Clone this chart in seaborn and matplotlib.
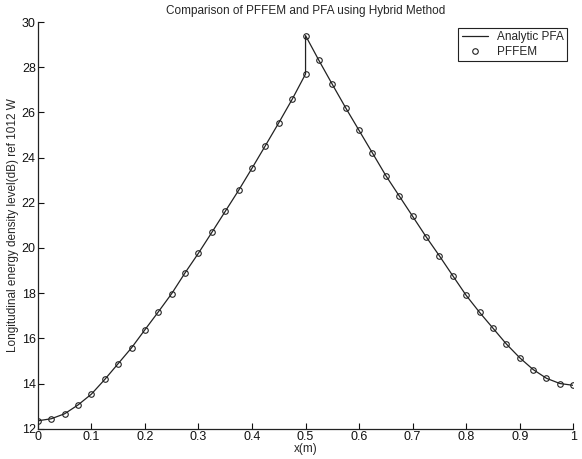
import numpy as np
import pandas as pd
import matplotlib
matplotlib.use("Agg")
import matplotlib.pyplot as plt
import seaborn as sns

x_vals = [0.0, 0.025, 0.05, 0.075, 0.1, 0.125, 0.15, 0.175, 0.2, 0.225,
          0.25, 0.275, 0.3, 0.325, 0.35, 0.375, 0.4, 0.425, 0.45, 0.475,
          0.5, 0.5, 0.525, 0.55, 0.575, 0.6, 0.625, 0.65, 0.675, 0.7,
          0.725, 0.75, 0.775, 0.8, 0.825, 0.85, 0.875, 0.9, 0.925, 0.95,
          0.975, 1.0]
analytic = [12.35, 12.44, 12.66, 13.05, 13.53, 14.18, 14.88, 15.58, 16.38, 17.17,
            17.98, 18.9, 19.77, 20.69, 21.62, 22.55, 23.53, 24.53, 25.54, 26.58,
            27.7, 29.4, 28.3, 27.24, 26.2, 25.2, 24.2, 23.2, 22.3, 21.4,
            20.5, 19.65, 18.77, 17.9, 17.15, 16.45, 15.75, 15.14, 14.62, 14.23,
            14.0, 13.92]
pffem = list(analytic)

x_ticks = [0, 0.1, 0.2, 0.3, 0.4, 0.5, 0.6, 0.7, 0.8, 0.9, 1]
x_tick_labels = ["0", "0.1", "0.2", "0.3", "0.4", "0.5", "0.6", "0.7", "0.8", "0.9", "1"]
y_ticks = [12, 14, 16, 18, 20, 22, 24, 26, 28, 30]

df = pd.DataFrame({"x": x_vals, "analytic": analytic, "pffem": pffem})

sns.set_style("ticks")
plt.rcParams["font.family"] = ["Liberation Sans", "DejaVu Sans"]
plt.rcParams["xtick.direction"] = "in"
plt.rcParams["ytick.direction"] = "in"

fig = plt.figure(figsize=(5.82, 4.59), dpi=100)
ax = fig.add_axes([0.065, 0.066, 0.92, 0.886])

sns.lineplot(data=df, x="x", y="analytic", ax=ax, estimator=None, sort=False,
             color="#222222", linewidth=0.9, label="Analytic PFA")
ax.plot(df["x"], df["pffem"], linestyle="none", marker="o", markersize=4,
        markerfacecolor="none", markeredgecolor="#222222", markeredgewidth=0.8,
        label="PFFEM")

ax.set_xlim(0, 1)
ax.set_ylim(12, 30)
ax.set_xticks(x_ticks)
ax.set_xticklabels(x_tick_labels)
ax.set_yticks(y_ticks)
ax.tick_params(labelsize=9, length=4, width=0.8, colors="#111111", pad=1.5)
for s in ["top", "right"]:
    ax.spines[s].set_visible(False)
for s in ["left", "bottom"]:
    ax.spines[s].set_color("#222222")
    ax.spines[s].set_linewidth(0.9)

ax.set_title("Comparison of PFFEM and PFA using Hybrid Method", fontsize=8.5, pad=6)
ax.set_xlabel("x(m)", fontsize=8.5, labelpad=0)
ax.set_ylabel("Longitudinal energy density level(dB) ref 1012 W", fontsize=8.5, labelpad=2)

leg = ax.legend(loc="upper right", fontsize=8.5, frameon=True, fancybox=False,
                edgecolor="#222222", framealpha=1, borderpad=0.3,
                handlelength=2.2, labelspacing=0.2, bbox_to_anchor=(1.0, 1.0))
leg.get_frame().set_linewidth(0.8)

fig.savefig("out.png", dpi=100)
